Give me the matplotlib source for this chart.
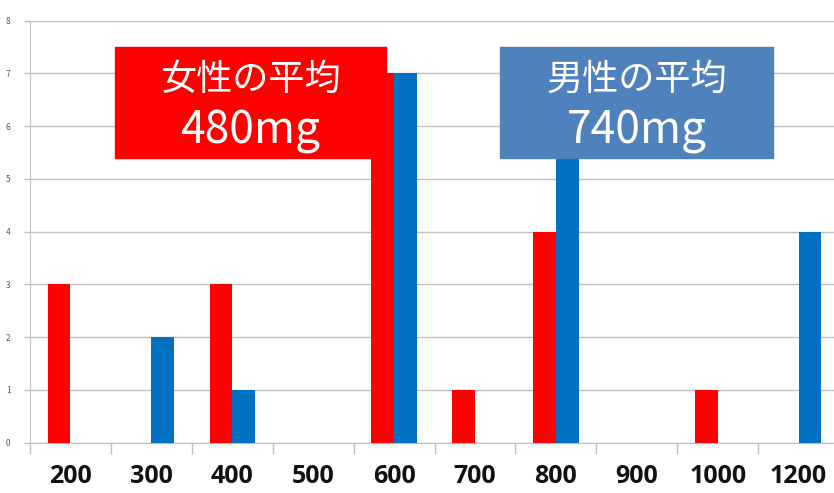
import numpy as np
import matplotlib.pyplot as plt
from matplotlib.patches import Rectangle

plt.rcParams['font.family'] = ['Noto Sans CJK JP', 'DejaVu Sans']

# data
categories = ["200", "300", "400", "500", "600", "700", "800", "900", "1000", "1200"]
female = [3, 0, 3, 0, 7, 1, 4, 0, 1, 0]
male = [0, 2, 1, 0, 7, 0, 6, 0, 0, 4]
female_label = ["女性の平均", "480mg"]
male_label = ["男性の平均", "740mg"]

red = "#FF0000"
blue = "#0070C0"
box_blue = "#4F81BD"

fig = plt.figure(figsize=(8.34, 4.93), dpi=100)
ax = fig.add_axes([30 / 834, 50.3 / 493, 809 / 834, 422 / 493])

x = np.arange(len(categories))
w = 0.28
ax.bar(x - w / 2, female, width=w, color=red, zorder=3)
ax.bar(x + w / 2, male, width=w, color=blue, zorder=3)

ax.set_xlim(-0.5, len(categories) - 0.5)
ax.set_ylim(0, 8)
ax.set_yticks(range(0, 9))
ax.yaxis.grid(True, color="#BFBFBF", linewidth=1, zorder=0)
ax.tick_params(axis="y", labelsize=6, colors="#595959", length=4, width=1, pad=10)
ax.tick_params(axis="y", color="#BFBFBF")

ax.set_xticks(x)
ax.set_xticklabels(categories, fontfamily="Open Sans", fontweight="bold", fontsize=18)
ax.tick_params(axis="x", length=0, pad=15, labelcolor="#111111")
ax.set_xticks(np.arange(-0.5, len(categories), 1), minor=True)
ax.tick_params(axis="x", which="minor", length=8, width=1, color="#BFBFBF")

for s in ["top", "right"]:
    ax.spines[s].set_visible(False)
for s in ["left", "bottom"]:
    ax.spines[s].set_color("#BFBFBF")

# annotation boxes
def label_box(x0, x1, color, lines):
    y0 = 1 - 158 / 493
    y1 = 1 - 47 / 493
    fig.add_artist(Rectangle((x0 / 834, y0), (x1 - x0) / 834, y1 - y0,
                             transform=fig.transFigure, color=color, zorder=5))
    cx = (x0 + x1) / 2 / 834
    fig.text(cx, 1 - 80 / 493, lines[0], color="white", fontsize=26,
             ha="center", va="center", zorder=6)
    fig.text(cx, 1 - 131 / 493, lines[1], color="white", fontsize=32,
             ha="center", va="center", zorder=6)

label_box(115, 386, red, female_label)
label_box(500, 773, box_blue, male_label)

fig.savefig("out.png", dpi=100)
